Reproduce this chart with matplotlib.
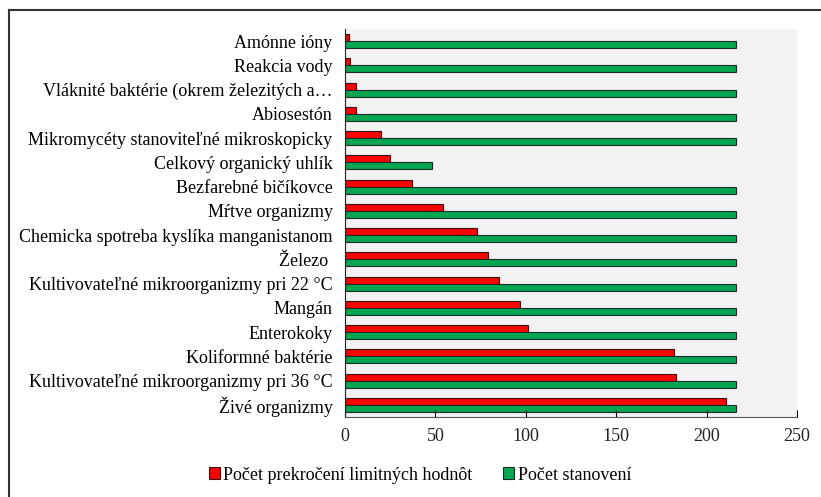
import numpy as np
import matplotlib

matplotlib.use("Agg")
import matplotlib.pyplot as plt
from matplotlib.lines import Line2D

plt.rcParams['font.family'] = ['Liberation Serif', 'DejaVu Serif']

# ukazovatele zhora nadol
ukazovatele = [
    "Amónne ióny",
    "Reakcia vody",
    "Vláknité baktérie (okrem železitých a…",
    "Abiosestón",
    "Mikromycéty stanoviteľné mikroskopicky",
    "Celkový organický uhlík",
    "Bezfarebné bičíkovce",
    "Mŕtve organizmy",
    "Chemicka spotreba kyslíka manganistanom",
    "Železo ",
    "Kultivovateľné mikroorganizmy pri 22 °C",
    "Mangán",
    "Enterokoky",
    "Koliformné baktérie",
    "Kultivovateľné mikroorganizmy pri 36 °C",
    "Živé organizmy",
]
prekrocenia = [2, 3, 6, 6, 20, 25, 37, 54, 73, 79, 85, 97, 101, 182, 183, 211]
stanovenia = [216, 216, 216, 216, 216, 48, 216, 216, 216, 216, 216, 216, 216, 216, 216, 216]
x_ticks = [0, 50, 100, 150, 200, 250]

FS = 13

fig = plt.figure(figsize=(8.21, 4.97), dpi=100)
ax = fig.add_axes([345 / 821, 1 - 417 / 497, 452 / 821, 388 / 497])
ax.set_facecolor("#F2F2F2")

n = len(ukazovatele)
y = np.arange(n)[::-1]
h = 0.29
ax.barh(y + h / 2, prekrocenia, height=h, color="#FF0000", edgecolor="#3a1010",
        linewidth=0.8, label="Počet prekročení limitných hodnôt")
ax.barh(y - h / 2, stanovenia, height=h, color="#00A651", edgecolor="#1f2a22",
        linewidth=0.8, label="Počet stanovení")

ax.set_xlim(0, 250)
ax.set_ylim(-0.5, n - 0.5)
ax.set_xticks(x_ticks)
ax.set_yticks(y)
ax.set_yticklabels(ukazovatele, fontsize=FS)
ax.tick_params(axis="y", length=0, pad=9)
ax.tick_params(axis="x", direction="in", length=5, labelsize=FS, pad=8)
for lbl in ax.get_xticklabels():
    lbl.set_color("#222222")
for s in ["top", "right"]:
    ax.spines[s].set_visible(False)
ax.spines["left"].set_color("#222222")
ax.spines["bottom"].set_color("#555555")

ax.legend(loc="center", bbox_to_anchor=((420 - 345) / 452, (417 - 475) / 388),
          ncol=2, frameon=False, fontsize=FS, handlelength=0.6, handleheight=0.6,
          handletextpad=0.2, columnspacing=1.7)

# rám okolo grafu
fig.add_artist(Line2D([9 / 821, 9 / 821], [0, 1 - 10 / 497], transform=fig.transFigure,
                      color="#333333", lw=1.5))
fig.add_artist(Line2D([9 / 821, 1], [1 - 10 / 497, 1 - 10 / 497], transform=fig.transFigure,
                      color="#333333", lw=1.5))

fig.savefig("out.png", dpi=100)
